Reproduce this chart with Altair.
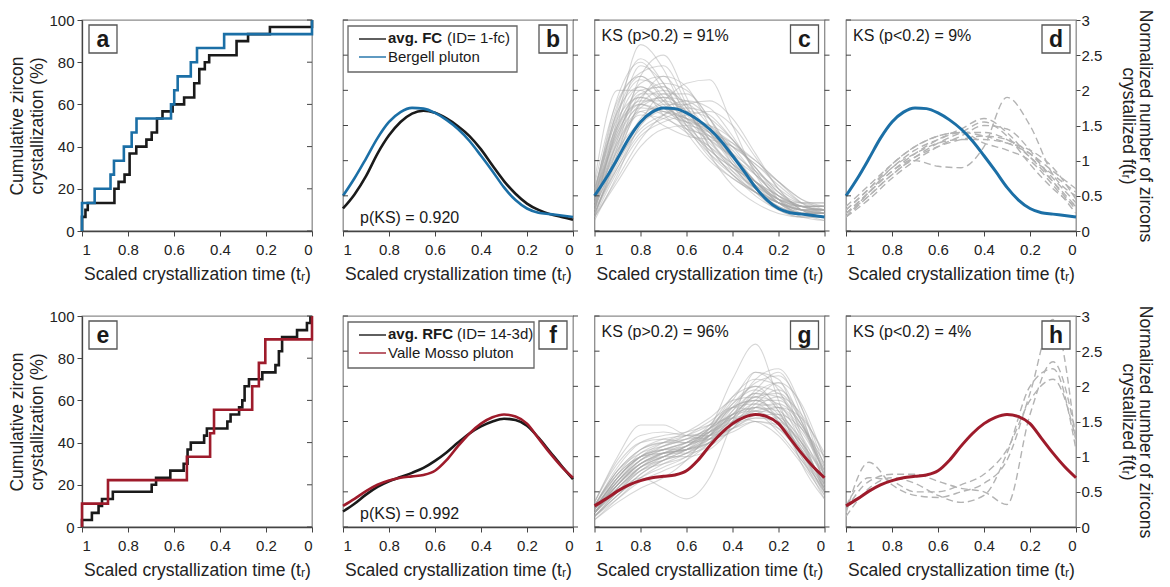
import altair as alt
import pandas as pd

FONT = "Liberation Sans"
BLUE = "#1b6fa6"
RED = "#9e1b2b"
BLACK = "#1a1a1a"
W, H = 230, 211

X_TICKS = [0, 0.2, 0.4, 0.6, 0.8, 1]
PCT_TICKS = [0, 20, 40, 60, 80, 100]
F_TICKS = [0, 0.5, 1, 1.5, 2, 2.5, 3]
X_TITLE = "Scaled crystallization time (tᵣ)"
PCT_TITLE = ["Cumulative zircon", "crystallization (%)"]
F_TITLE = ["Normalized number of zircons", "crystallized f(tᵣ)"]

# ---- panel a: cumulative steps
A_MODEL_T = [1, 1, 0.985, 0.975, 0.859, 0.841, 0.815, 0.793, 0.764, 0.72, 0.697, 0.674, 0.65, 0.606, 0.556, 0.512, 0.49, 0.466, 0.447, 0.328, 0.278, 0.183, 0]
A_MODEL_PCT = [0, 6.7, 10, 13.3, 20, 23.3, 26.7, 36.7, 40, 43.3, 46.7, 53.3, 56.7, 60, 63.3, 70, 76.7, 80, 83.3, 90, 93.3, 96.7, 100]
A_DATA_T = [1, 1, 0.945, 0.876, 0.861, 0.818, 0.784, 0.763, 0.613, 0.599, 0.584, 0.527, 0.5, 0.382, 0]
A_DATA_PCT = [0, 13.3, 20, 26.7, 33.3, 40, 46.7, 53.3, 60, 66.7, 73.3, 80, 86.7, 93.3, 100]

# ---- panel e: cumulative steps
E_MODEL_T = [1, 1, 0.957, 0.928, 0.913, 0.866, 0.697, 0.678, 0.616, 0.558, 0.541, 0.527, 0.469, 0.457, 0.368, 0.354, 0.317, 0.303, 0.293, 0.274, 0.216, 0.159, 0.144, 0.130, 0.065, 0.022, 0.007]
E_MODEL_PCT = [0, 3.3, 6.7, 10, 13.3, 16.7, 20, 23.3, 26.7, 30, 36.7, 40, 43.3, 46.7, 50, 53.3, 56.7, 60, 66.7, 70, 73.3, 76.7, 83.3, 90, 93.3, 96.7, 100]
E_DATA_T = [1, 1, 0.887, 0.544, 0.443, 0.426, 0.26, 0.231, 0.203, 0]
E_DATA_PCT = [0, 11.1, 22.2, 33.3, 44.4, 55.6, 66.7, 77.8, 88.9, 100]

# ---- smooth curves (t = 1 .. 0 step 0.05)
T21 = [1.0, 0.95, 0.9, 0.85, 0.8, 0.75, 0.7, 0.65, 0.6, 0.55, 0.5, 0.45, 0.4, 0.35, 0.3, 0.25, 0.2, 0.15, 0.1, 0.05, 0.0]
FC_AVG = [0.32, 0.52, 0.78, 1.10, 1.36, 1.55, 1.67, 1.71, 1.68, 1.60, 1.49, 1.35, 1.16, 0.93, 0.71, 0.53, 0.39, 0.30, 0.24, 0.20, 0.16]
BERGELL = [0.50, 0.75, 1.03, 1.32, 1.55, 1.69, 1.75, 1.74, 1.68, 1.58, 1.45, 1.28, 1.07, 0.85, 0.62, 0.44, 0.32, 0.26, 0.24, 0.22, 0.20]
RFC_AVG = [0.22, 0.33, 0.46, 0.57, 0.65, 0.71, 0.77, 0.84, 0.94, 1.06, 1.20, 1.33, 1.43, 1.50, 1.54, 1.52, 1.44, 1.27, 1.07, 0.87, 0.68]
VALLE_MOSSO = [0.30, 0.40, 0.51, 0.60, 0.66, 0.70, 0.72, 0.74, 0.80, 0.95, 1.15, 1.33, 1.47, 1.56, 1.60, 1.57, 1.47, 1.26, 1.05, 0.86, 0.70]

# ---- model realisations (t = 1 .. 0 step 0.1)
T11 = [1.0, 0.9, 0.8, 0.7, 0.6, 0.5, 0.4, 0.3, 0.2, 0.1, 0.0]
C_PASS = [
    [0.30, 1.60, 2.65, 2.30, 1.60, 1.10, 0.80, 0.55, 0.35, 0.25, 0.25],
    [0.50, 1.90, 2.40, 2.00, 1.50, 1.20, 0.90, 0.60, 0.40, 0.30, 0.30],
    [0.20, 1.20, 2.20, 2.50, 1.90, 1.20, 0.80, 0.50, 0.30, 0.20, 0.20],
    [0.40, 1.40, 1.90, 2.10, 2.00, 1.60, 1.00, 0.60, 0.35, 0.25, 0.30],
    [0.60, 1.50, 1.80, 1.70, 1.60, 1.50, 1.20, 0.80, 0.50, 0.35, 0.30],
    [0.30, 0.90, 1.40, 1.60, 1.70, 1.60, 1.30, 0.90, 0.55, 0.35, 0.30],
    [0.20, 0.70, 1.20, 1.45, 1.50, 1.40, 1.25, 1.00, 0.70, 0.45, 0.35],
    [0.50, 1.70, 2.20, 1.90, 1.40, 1.00, 0.75, 0.55, 0.40, 0.30, 0.25],
    [0.35, 1.30, 1.80, 1.90, 1.70, 1.30, 0.90, 0.60, 0.40, 0.30, 0.25],
    [0.25, 1.00, 1.60, 1.85, 2.10, 2.15, 1.50, 0.80, 0.40, 0.25, 0.25],
    [0.45, 1.55, 2.05, 1.80, 1.50, 1.30, 1.05, 0.70, 0.40, 0.25, 0.20],
    [0.15, 0.80, 1.50, 1.70, 1.60, 1.45, 1.20, 0.95, 0.65, 0.40, 0.30],
    [0.55, 1.80, 2.25, 2.35, 1.80, 1.10, 0.65, 0.40, 0.25, 0.20, 0.20],
    [0.30, 1.10, 1.70, 1.75, 1.55, 1.35, 1.10, 0.85, 0.60, 0.40, 0.35],
    [0.40, 1.25, 1.65, 1.60, 1.45, 1.35, 1.20, 0.95, 0.70, 0.45, 0.30],
    [0.70, 2.00, 2.00, 1.65, 1.40, 1.20, 0.95, 0.70, 0.45, 0.30, 0.30],
    [0.25, 0.95, 1.55, 1.95, 1.95, 1.60, 1.10, 0.70, 0.45, 0.35, 0.35],
    [0.35, 1.45, 2.00, 2.05, 1.75, 1.30, 0.85, 0.55, 0.40, 0.35, 0.35],
    [0.20, 0.85, 1.35, 1.55, 1.65, 1.70, 1.50, 1.05, 0.60, 0.30, 0.20],
    [0.50, 1.35, 1.75, 1.70, 1.55, 1.45, 1.25, 0.90, 0.55, 0.30, 0.20],
    [0.30, 1.50, 2.35, 2.10, 1.55, 1.15, 0.90, 0.70, 0.45, 0.25, 0.15],
    [0.40, 1.15, 1.55, 1.75, 1.85, 1.75, 1.35, 0.85, 0.45, 0.25, 0.25],
    [0.45, 1.65, 2.15, 2.00, 1.60, 1.25, 0.95, 0.70, 0.50, 0.35, 0.25],
    [0.25, 1.05, 1.85, 2.20, 2.05, 1.50, 0.95, 0.55, 0.30, 0.20, 0.20],
    [0.60, 1.60, 1.90, 1.75, 1.45, 1.15, 0.90, 0.70, 0.50, 0.35, 0.30],
    [0.35, 1.00, 1.45, 1.65, 1.75, 1.65, 1.30, 0.85, 0.45, 0.20, 0.15],
    [0.20, 1.10, 1.95, 2.05, 1.70, 1.30, 1.05, 0.80, 0.55, 0.40, 0.40],
    [0.50, 1.45, 1.85, 1.85, 1.70, 1.40, 1.00, 0.65, 0.45, 0.40, 0.40],
    [0.30, 1.25, 1.70, 1.50, 1.35, 1.30, 1.20, 1.00, 0.70, 0.40, 0.25],
    [0.45, 1.75, 2.45, 2.10, 1.50, 1.05, 0.75, 0.55, 0.40, 0.30, 0.30],
    [0.40, 1.35, 1.95, 1.95, 1.65, 1.35, 1.05, 0.70, 0.40, 0.25, 0.25],
    [0.25, 0.90, 1.50, 1.80, 1.80, 1.50, 1.15, 0.80, 0.50, 0.35, 0.35],
    [0.55, 1.70, 2.05, 1.85, 1.60, 1.40, 1.10, 0.70, 0.40, 0.25, 0.20],
    [0.35, 1.20, 1.75, 1.90, 1.85, 1.60, 1.10, 0.65, 0.40, 0.30, 0.30],
    [0.30, 1.30, 2.10, 2.20, 1.75, 1.20, 0.80, 0.55, 0.35, 0.25, 0.25],
    [0.45, 1.40, 1.80, 1.65, 1.55, 1.50, 1.30, 0.90, 0.50, 0.30, 0.25],
    [0.20, 0.75, 1.30, 1.65, 1.80, 1.85, 1.60, 1.10, 0.60, 0.30, 0.20],
    [0.65, 1.85, 2.20, 1.85, 1.45, 1.10, 0.85, 0.60, 0.40, 0.30, 0.25],
    [0.30, 1.15, 1.80, 2.00, 1.80, 1.40, 0.95, 0.65, 0.45, 0.35, 0.35],
    [0.40, 1.50, 1.90, 1.75, 1.60, 1.40, 1.05, 0.70, 0.45, 0.35, 0.30],
]
D_FAIL = [
    [0.25, 0.55, 0.85, 1.05, 1.20, 1.30, 1.35, 1.30, 1.10, 0.75, 0.40],
    [0.30, 0.60, 0.90, 1.15, 1.30, 1.40, 1.40, 1.30, 1.05, 0.70, 0.35],
    [0.20, 0.50, 0.80, 1.00, 0.92, 0.90, 1.20, 1.90, 1.50, 0.80, 0.50],
    [0.25, 0.55, 0.85, 1.10, 1.30, 1.45, 1.60, 1.40, 1.05, 0.80, 0.55],
    [0.35, 0.65, 0.95, 1.20, 1.35, 1.40, 1.35, 1.25, 1.10, 0.85, 0.60],
    [0.20, 0.45, 0.75, 1.00, 1.20, 1.35, 1.50, 1.45, 1.15, 0.70, 0.30],
    [0.30, 0.60, 0.95, 1.20, 1.35, 1.40, 1.25, 1.15, 1.00, 0.65, 0.25],
    [0.25, 0.50, 0.80, 1.05, 1.25, 1.40, 1.55, 1.35, 0.95, 0.60, 0.35],
    [0.20, 0.55, 0.90, 1.10, 1.25, 1.30, 1.30, 1.25, 1.15, 0.90, 0.45],
]
G_PASS = [
    [0.20, 0.55, 0.85, 1.00, 1.15, 1.35, 1.70, 1.80, 1.55, 1.05, 0.55],
    [0.25, 0.70, 1.00, 1.15, 1.25, 1.40, 1.60, 1.65, 1.45, 1.00, 0.50],
    [0.15, 0.45, 0.75, 0.95, 1.10, 1.40, 2.10, 2.60, 1.80, 0.90, 0.40],
    [0.30, 0.80, 1.10, 1.20, 1.25, 1.30, 1.45, 1.55, 1.50, 1.20, 0.70],
    [0.20, 0.60, 0.90, 1.05, 1.10, 1.25, 1.55, 1.95, 2.20, 1.60, 0.60],
    [0.35, 1.00, 1.45, 1.45, 1.30, 1.25, 1.35, 1.50, 1.45, 1.10, 0.60],
    [0.15, 0.40, 0.65, 0.80, 0.95, 1.20, 1.60, 1.90, 1.85, 1.40, 0.80],
    [0.25, 0.65, 0.95, 1.10, 1.20, 1.35, 1.55, 1.60, 1.35, 0.95, 0.55],
    [0.10, 0.35, 0.55, 0.70, 0.95, 1.35, 1.85, 2.10, 2.00, 1.50, 0.75],
    [0.30, 0.75, 1.00, 1.05, 1.10, 1.25, 1.45, 1.65, 1.70, 1.40, 0.85],
    [0.20, 0.50, 0.70, 0.55, 0.40, 0.70, 1.50, 2.20, 2.10, 1.30, 0.50],
    [0.25, 0.70, 1.05, 1.20, 1.30, 1.45, 1.70, 1.75, 1.50, 1.10, 0.65],
    [0.20, 0.60, 0.90, 1.00, 1.00, 1.10, 1.40, 1.70, 1.85, 1.60, 1.00],
    [0.30, 0.85, 1.20, 1.30, 1.35, 1.45, 1.55, 1.50, 1.30, 0.90, 0.45],
    [0.15, 0.50, 0.80, 0.95, 1.05, 1.25, 1.65, 2.10, 2.25, 1.70, 0.70],
    [0.25, 0.75, 1.10, 1.25, 1.30, 1.35, 1.50, 1.65, 1.60, 1.20, 0.55],
    [0.20, 0.55, 0.80, 0.90, 1.00, 1.20, 1.55, 1.85, 1.75, 1.20, 0.50],
    [0.30, 0.65, 0.90, 1.00, 1.15, 1.40, 1.75, 1.95, 1.70, 1.10, 0.45],
    [0.20, 0.60, 0.95, 1.15, 1.30, 1.50, 1.70, 1.65, 1.40, 1.05, 0.70],
    [0.25, 0.70, 1.00, 1.10, 1.15, 1.30, 1.60, 1.85, 1.90, 1.50, 0.80],
    [0.15, 0.45, 0.70, 0.85, 1.00, 1.30, 1.75, 2.00, 1.90, 1.45, 0.90],
    [0.35, 0.90, 1.20, 1.25, 1.20, 1.25, 1.40, 1.55, 1.55, 1.25, 0.75],
    [0.20, 0.55, 0.85, 1.00, 1.10, 1.30, 1.65, 1.90, 1.65, 1.00, 0.40],
    [0.25, 0.65, 0.95, 1.05, 1.10, 1.20, 1.45, 1.80, 2.05, 1.75, 0.95],
    [0.30, 0.80, 1.05, 1.15, 1.25, 1.40, 1.60, 1.70, 1.55, 1.15, 0.60],
    [0.10, 0.40, 0.70, 0.90, 1.05, 1.30, 1.70, 2.05, 2.15, 1.70, 0.85],
    [0.25, 0.60, 0.85, 0.95, 1.05, 1.20, 1.45, 1.60, 1.60, 1.40, 1.00],
    [0.20, 0.65, 1.00, 1.20, 1.35, 1.55, 1.80, 1.85, 1.50, 0.95, 0.50],
    [0.30, 0.75, 1.00, 1.05, 1.05, 1.15, 1.40, 1.75, 1.95, 1.55, 0.70],
    [0.20, 0.50, 0.80, 1.00, 1.15, 1.35, 1.60, 1.70, 1.55, 1.20, 0.75],
    [0.25, 0.70, 1.00, 1.10, 1.20, 1.40, 1.80, 2.20, 1.95, 1.25, 0.55],
    [0.15, 0.50, 0.85, 1.05, 1.15, 1.30, 1.55, 1.75, 1.70, 1.35, 0.80],
    [0.30, 0.80, 1.10, 1.20, 1.20, 1.30, 1.50, 1.70, 1.75, 1.45, 0.90],
    [0.20, 0.60, 0.90, 1.05, 1.10, 1.20, 1.40, 1.60, 1.70, 1.55, 1.05],
    [0.25, 0.60, 0.90, 1.05, 1.20, 1.45, 1.85, 2.00, 1.65, 1.05, 0.50],
    [0.20, 0.65, 0.95, 1.10, 1.20, 1.35, 1.55, 1.70, 1.65, 1.30, 0.65],
    [0.35, 0.95, 1.30, 1.35, 1.30, 1.30, 1.40, 1.50, 1.40, 1.05, 0.55],
    [0.15, 0.45, 0.75, 0.95, 1.10, 1.30, 1.60, 1.80, 1.80, 1.45, 0.75],
    [0.25, 0.70, 1.00, 1.10, 1.10, 1.20, 1.50, 1.90, 2.05, 1.50, 0.60],
    [0.20, 0.55, 0.85, 1.00, 1.15, 1.40, 1.70, 1.80, 1.60, 1.15, 0.60],
]
H_FAIL = [
    [0.20, 0.92, 0.60, 0.45, 0.42, 0.50, 0.62, 0.95, 1.90, 2.95, 1.20],
    [0.25, 0.65, 0.75, 0.75, 0.65, 0.55, 0.50, 0.32, 1.60, 2.35, 1.30],
    [0.15, 0.55, 0.70, 0.62, 0.45, 0.35, 0.45, 1.05, 2.00, 2.25, 1.10],
    [0.30, 0.70, 0.65, 0.50, 0.50, 0.60, 0.75, 1.10, 1.80, 2.10, 1.25],
]

# ------------------------------------------------------------------ helpers
XSCALE = alt.Scale(domain=[0, 1], reverse=True, nice=False)
X_AXIS = alt.Axis(values=X_TICKS, format="~g", title=X_TITLE, tickSize=5, labelPadding=6, titlePadding=8)
PCT_SCALE = alt.Scale(domain=[0, 100], nice=False)
F_SCALE = alt.Scale(domain=[0, 3], nice=False)
PCT_AXIS = alt.Axis(values=PCT_TICKS, title=PCT_TITLE, tickSize=5, labelPadding=3, titlePadding=2,
                    titleLineHeight=20)
F_AXIS_RIGHT = alt.Axis(orient="right", values=F_TICKS, format="~g", title=F_TITLE, tickSize=4,
                        labelPadding=1, titlePadding=17, titleLineHeight=17, domain=False)


def xenc():
    return alt.X("t:Q", scale=XSCALE, axis=X_AXIS)


def yenc(scale, axis):
    if axis is None:
        return alt.Y("y:Q", scale=scale, axis=None)
    return alt.Y("y:Q", scale=scale, axis=axis)


def step_df(t, pct):
    return pd.DataFrame({"t": t, "y": pct, "idx": list(range(len(t)))})


def curve_df(t, ys):
    return pd.DataFrame({"t": t, "y": ys})


def sims_df(t, rows):
    recs = []
    for i, row in enumerate(rows):
        for tt, yy in zip(t, row):
            recs.append({"t": tt, "y": yy, "sim": i})
    return pd.DataFrame(recs)


def ticks(values, scale, axis, side, inward):
    if side == "left":
        x0, x1 = 0, (5 if inward else -5)
    else:
        x0, x1 = W, (W - 5 if inward else W + 5)
    return alt.Chart(pd.DataFrame({"y": values})).mark_rule(color="#444", strokeWidth=1).encode(
        y=yenc(scale, axis), x=alt.value(x0), x2=alt.value(x1))


def txt(s, x, y, size=16, weight="normal", align="left"):
    return alt.Chart(pd.DataFrame({"s": [s]})).mark_text(
        font=FONT, fontSize=size, fontWeight=weight, align=align, baseline="alphabetic",
        color="#1a1a1a").encode(x=alt.value(x), y=alt.value(y), text="s:N")


def box(x0, x1, y0, y1, stroke="#555"):
    return alt.Chart(pd.DataFrame({"k": [0]})).mark_rect(
        fill="white", stroke=stroke, strokeWidth=1.3).encode(
        x=alt.value(x0), x2=alt.value(x1), y=alt.value(y0), y2=alt.value(y1))


def letter(ch, right=True):
    x0 = W - 34 if right else 7
    return [box(x0, x0 + 28, 5, 33), txt(ch, x0 + 14, 27, size=23, weight="bold", align="center")]


def legend_line(color, y):
    return alt.Chart(pd.DataFrame({"k": [0]})).mark_rule(color=color, strokeWidth=1.4).encode(
        x=alt.value(16), x2=alt.value(43), y=alt.value(y))


def step_panel(model_t, model_pct, data_t, data_pct, color, ch):
    model = alt.Chart(step_df(model_t, model_pct)).mark_line(
        interpolate="step-after", strokeWidth=2.6, color=BLACK).encode(
        x=xenc(), y=yenc(PCT_SCALE, PCT_AXIS), order=alt.Order("idx:Q"))
    data = alt.Chart(step_df(data_t, data_pct)).mark_line(
        interpolate="step-after", strokeWidth=2.6, color=color).encode(
        x=xenc(), y=yenc(PCT_SCALE, PCT_AXIS), order=alt.Order("idx:Q"))
    return alt.layer(model, data, ticks(PCT_TICKS, PCT_SCALE, PCT_AXIS, "right", True),
                     *letter(ch, right=False)).properties(width=W, height=H)


def compare_panel(avg, obs, color, ch, bold, rest, rest_x, name, box_w, pks):
    avg_line = alt.Chart(curve_df(T21, avg)).mark_line(
        interpolate="monotone", strokeWidth=2.6, color=BLACK).encode(
        x=xenc(), y=yenc(F_SCALE, None))
    obs_line = alt.Chart(curve_df(T21, obs)).mark_line(
        interpolate="monotone", strokeWidth=2.6, color=color).encode(
        x=xenc(), y=yenc(F_SCALE, None))
    legend = [box(5, box_w, 6, 52, stroke="#666"), legend_line(BLACK, 19), legend_line(color, 37),
              txt(bold, 45, 23, size=15, weight="bold"), txt(rest, rest_x, 23, size=15),
              txt(name, 45, 42, size=15)]
    return alt.layer(avg_line, obs_line, ticks(F_TICKS, F_SCALE, None, "left", True),
                     ticks(F_TICKS, F_SCALE, None, "right", False),
                     *legend, txt(pks, 17, H - 8), *letter(ch)).properties(width=W, height=H)


def sims_panel(rows, obs, color, ch, label, dashed, right_axis):
    yaxis = F_AXIS_RIGHT if right_axis else None
    sims = alt.Chart(sims_df(T11, rows))
    if dashed:
        sims = sims.mark_line(interpolate="monotone", clip=True, color="#b3b3b3", strokeWidth=1.4,
                              strokeDash=[7, 4])
    else:
        sims = sims.mark_line(interpolate="monotone", clip=True, color="#a6a6a6", strokeWidth=1.1,
                              opacity=0.45)
    sims = sims.encode(x=xenc(), y=yenc(F_SCALE, yaxis), detail="sim:N")
    obs_line = alt.Chart(curve_df(T21, obs)).mark_line(
        interpolate="monotone", strokeWidth=3, color=color).encode(
        x=xenc(), y=yenc(F_SCALE, yaxis))
    layers = [sims, obs_line, ticks(F_TICKS, F_SCALE, yaxis, "left", True)]
    if not right_axis:
        layers.append(ticks(F_TICKS, F_SCALE, yaxis, "right", False))
    layers += [txt(label, 7, 21), *letter(ch)]
    return alt.layer(*layers).properties(width=W, height=H)


a = step_panel(A_MODEL_T, A_MODEL_PCT, A_DATA_T, A_DATA_PCT, BLUE, "a")
b = compare_panel(FC_AVG, BERGELL, BLUE, "b", "avg. FC", "(ID= 1-fc)", 104, "Bergell pluton", 174,
                  "p(KS) = 0.920")
c = sims_panel(C_PASS, BERGELL, BLUE, "c", "KS (p>0.2) = 91%", False, False)
d = sims_panel(D_FAIL, BERGELL, BLUE, "d", "KS (p<0.2) = 9%", True, True)

e = step_panel(E_MODEL_T, E_MODEL_PCT, E_DATA_T, E_DATA_PCT, RED, "e")
f = compare_panel(RFC_AVG, VALLE_MOSSO, RED, "f", "avg. RFC", "(ID= 14-3d)", 114, "Valle Mosso pluton",
                  191, "p(KS) = 0.992")
g = sims_panel(G_PASS, VALLE_MOSSO, RED, "g", "KS (p>0.2) = 96%", False, False)
h = sims_panel(H_FAIL, VALLE_MOSSO, RED, "h", "KS (p<0.2) = 4%", True, True)

row1 = alt.hconcat(a, alt.hconcat(b, c, d, spacing=7.5), spacing=19)
row2 = alt.hconcat(e, alt.hconcat(f, g, h, spacing=7.5), spacing=19)

chart = alt.vconcat(row1, row2, spacing=20).properties(
    padding={"left": 0, "top": 0, "right": 0, "bottom": 0}
).configure_view(
    stroke="#8c8c8c", strokeWidth=1.3
).configure_axis(
    labelFont=FONT, titleFont=FONT, labelFontSize=15, titleFontSize=17.5, titleFontWeight="normal",
    labelColor="#222", titleColor="#222", domainColor="#444", tickColor="#444", grid=False,
    domainWidth=1.3
)

chart.save("out.html", embed_options={"renderer": "svg", "actions": False})
